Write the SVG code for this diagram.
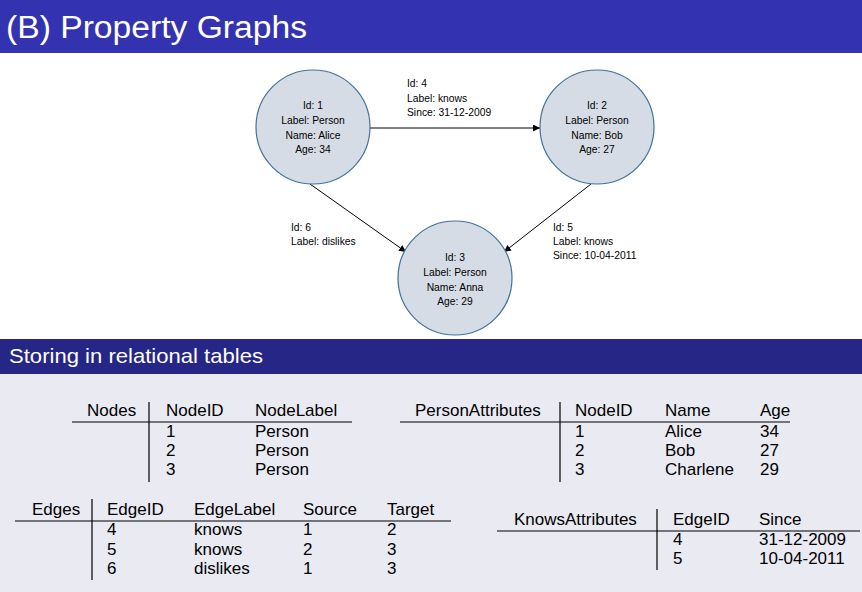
<svg xmlns="http://www.w3.org/2000/svg" width="862" height="592" viewBox="0 0 862 592">
<defs>
<marker id="arr" viewBox="0 0 10 10" refX="10" refY="5" markerWidth="7" markerHeight="7" markerUnits="userSpaceOnUse" orient="auto">
<path d="M0,0 L10,5 L0,10 z" fill="#000"/>
</marker>
</defs>
<style>
.node circle{fill:#D6DCE5;stroke:#41719C;stroke-width:1.2}
.nt{font-family:"Liberation Sans",Arial,sans-serif;font-size:10.3px;fill:#000;text-anchor:middle}
.et{font-family:"Liberation Sans",Arial,sans-serif;font-size:10.3px;fill:#000}
.edge{stroke:#000;stroke-width:1;fill:none;marker-end:url(#arr)}
.tt{font-family:"Liberation Sans",Arial,sans-serif;font-size:17px;fill:#000}
.rule{stroke:#000;stroke-width:1.2}
</style>
<rect x="0" y="0" width="862" height="592" fill="#fff"/>
<rect x="0" y="0" width="862" height="53" fill="#3333B2"/>
<text x="6" y="38" font-family="'Liberation Sans',Arial,sans-serif" font-size="31" fill="#fff" textLength="301" lengthAdjust="spacingAndGlyphs">(B) Property Graphs</text>
<rect x="0" y="339" width="862" height="35" fill="#262686"/>
<rect x="0" y="374" width="862" height="218" fill="#EAEAF3"/>
<text x="9" y="363" font-family="'Liberation Sans',Arial,sans-serif" font-size="21" fill="#fff" textLength="254" lengthAdjust="spacingAndGlyphs">Storing in relational tables</text>

<g id="connectors">
<line class="edge" x1="370" y1="128" x2="540" y2="128"/>
<line class="edge" x1="310" y1="184" x2="406" y2="252"/>
<line class="edge" x1="591" y1="184" x2="504" y2="252"/>
<text class="et" x="407" y="86.5">Id: 4</text>
<text class="et" x="407" y="101.5">Label: knows</text>
<text class="et" x="407" y="115.5">Since: 31-12-2009</text>
<text class="et" x="291" y="230.5">Id: 6</text>
<text class="et" x="291" y="244.5">Label: dislikes</text>
<text class="et" x="553" y="230.5">Id: 5</text>
<text class="et" x="553" y="244.5">Label: knows</text>
<text class="et" x="553" y="258.5">Since: 10-04-2011</text>
</g>

<g id="node1" class="node">
<circle cx="313" cy="127" r="57"/>
<text class="nt" x="313" y="108.5">Id: 1</text>
<text class="nt" x="313" y="124">Label: Person</text>
<text class="nt" x="313" y="138.5">Name: Alice</text>
<text class="nt" x="313" y="153">Age: 34</text>
</g>
<g id="node2" class="node">
<circle cx="597" cy="127" r="57"/>
<text class="nt" x="597" y="108.5">Id: 2</text>
<text class="nt" x="597" y="124">Label: Person</text>
<text class="nt" x="597" y="138.5">Name: Bob</text>
<text class="nt" x="597" y="153">Age: 27</text>
</g>
<g id="node3" class="node">
<circle cx="455" cy="278" r="57"/>
<text class="nt" x="455" y="260.5">Id: 3</text>
<text class="nt" x="455" y="276">Label: Person</text>
<text class="nt" x="455" y="290.5">Name: Anna</text>
<text class="nt" x="455" y="305">Age: 29</text>
</g>

<g id="table-nodes">
<line class="rule" x1="72" y1="422" x2="352" y2="422"/>
<line class="rule" x1="149" y1="402" x2="149" y2="482"/>
<text class="tt" x="87" y="416">Nodes</text>
<text class="tt" x="166" y="416">NodeID</text>
<text class="tt" x="255" y="416">NodeLabel</text>
<text class="tt" x="166" y="437">1</text>
<text class="tt" x="255" y="437">Person</text>
<text class="tt" x="166" y="456">2</text>
<text class="tt" x="255" y="456">Person</text>
<text class="tt" x="166" y="475">3</text>
<text class="tt" x="255" y="475">Person</text>
</g>

<g id="table-personattributes">
<line class="rule" x1="400" y1="422" x2="790" y2="422"/>
<line class="rule" x1="560" y1="402" x2="560" y2="482"/>
<text class="tt" x="415" y="416">PersonAttributes</text>
<text class="tt" x="575" y="416">NodeID</text>
<text class="tt" x="665" y="416">Name</text>
<text class="tt" x="760" y="416">Age</text>
<text class="tt" x="575" y="437">1</text>
<text class="tt" x="665" y="437">Alice</text>
<text class="tt" x="760" y="437">34</text>
<text class="tt" x="575" y="456">2</text>
<text class="tt" x="665" y="456">Bob</text>
<text class="tt" x="760" y="456">27</text>
<text class="tt" x="575" y="475">3</text>
<text class="tt" x="665" y="475">Charlene</text>
<text class="tt" x="760" y="475">29</text>
</g>

<g id="table-edges">
<line class="rule" x1="15" y1="521" x2="451" y2="521"/>
<line class="rule" x1="92" y1="499" x2="92" y2="580"/>
<text class="tt" x="32" y="515">Edges</text>
<text class="tt" x="107" y="515">EdgeID</text>
<text class="tt" x="194" y="515">EdgeLabel</text>
<text class="tt" x="303" y="515">Source</text>
<text class="tt" x="387" y="515">Target</text>
<text class="tt" x="107" y="535">4</text>
<text class="tt" x="194" y="535">knows</text>
<text class="tt" x="303" y="535">1</text>
<text class="tt" x="387" y="535">2</text>
<text class="tt" x="107" y="555">5</text>
<text class="tt" x="194" y="555">knows</text>
<text class="tt" x="303" y="555">2</text>
<text class="tt" x="387" y="555">3</text>
<text class="tt" x="107" y="574">6</text>
<text class="tt" x="194" y="574">dislikes</text>
<text class="tt" x="303" y="574">1</text>
<text class="tt" x="387" y="574">3</text>
</g>

<g id="table-knowsattributes">
<line class="rule" x1="497" y1="531" x2="860" y2="531"/>
<line class="rule" x1="657" y1="509" x2="657" y2="570"/>
<text class="tt" x="514" y="525">KnowsAttributes</text>
<text class="tt" x="673" y="525">EdgeID</text>
<text class="tt" x="759" y="525">Since</text>
<text class="tt" x="673" y="545">4</text>
<text class="tt" x="759" y="545">31-12-2009</text>
<text class="tt" x="673" y="564">5</text>
<text class="tt" x="759" y="564">10-04-2011</text>
</g>
</svg>
